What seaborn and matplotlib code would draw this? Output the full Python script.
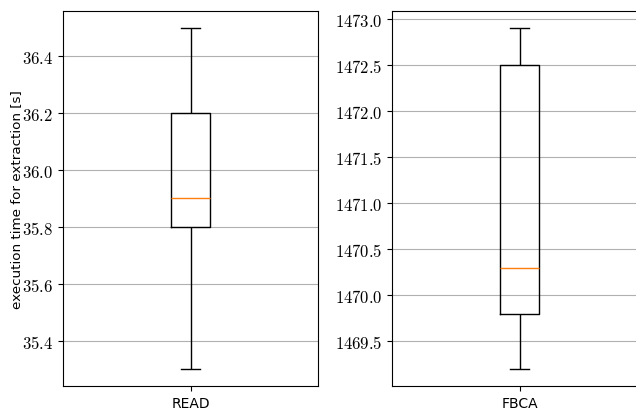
import matplotlib
matplotlib.use("Agg")
import matplotlib.pyplot as plt
import matplotlib.ticker as mticker
import seaborn as sns

# extraction times [s], five runs each
read_times = [35.3, 35.8, 35.9, 36.2, 36.5]
fbca_times = [1469.2, 1469.8, 1470.3, 1472.5, 1472.9]
labels = ["READ", "FBCA"]

plt.rcParams["mathtext.fontset"] = "cm"

W, H = 636, 410
fig = plt.figure(figsize=(W / 100, H / 100), dpi=100)
ax1 = fig.add_axes([63 / W, 23 / H, 255 / W, 375 / H])
ax2 = fig.add_axes([392 / W, 23 / H, 255 / W, 375 / H])
axes = [ax1, ax2]

for ax, vals, lab in zip(axes, [read_times, fbca_times], labels):
    sns.boxplot(x=[lab] * len(vals), y=vals, ax=ax, width=0.15, fill=False,
                color="black", linewidth=1.0,
                medianprops={"color": "#ff7f0e", "linewidth": 1.0},
                whis=1.5)
    ax.set_xlim(-0.5, 0.5)
    ax.yaxis.grid(True, color="#b0b0b0", linewidth=0.8)
    ax.set_axisbelow(True)
    ax.yaxis.set_major_formatter(
        mticker.FuncFormatter(lambda v, p: r"$%.1f$" % v))
    ax.tick_params(axis="y", labelsize=12)
    ax.tick_params(axis="x", labelsize=10)
    ax.set_ylabel("")
    ax.set_xlabel("")

ax2.yaxis.set_major_locator(mticker.MultipleLocator(0.5))
ax1.set_ylabel("execution time for extraction [s]", fontsize=9.7, labelpad=-1)

fig.savefig("out.png", dpi=100)
